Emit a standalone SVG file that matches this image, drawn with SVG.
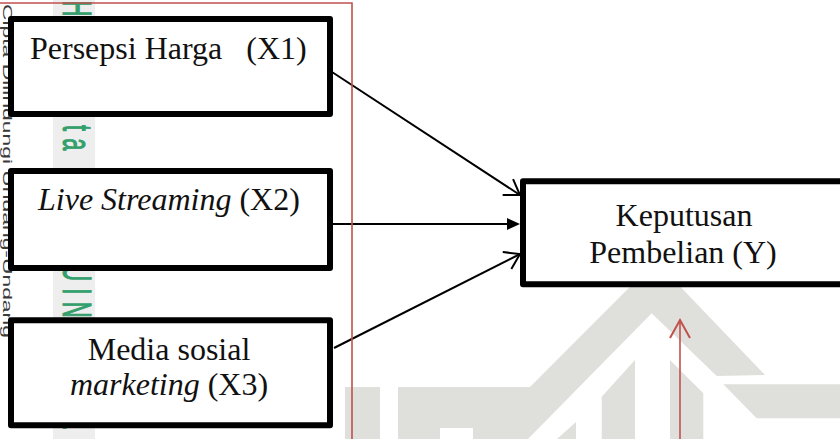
<svg xmlns="http://www.w3.org/2000/svg" width="840" height="439" viewBox="0 0 840 439">
  <style>
    .box { fill: #ffffff; stroke: #000000; stroke-width: 6; stroke-linejoin: round; }
    .lbl { font-family: "Liberation Serif", "Times New Roman", serif; font-size: 32px; fill: #111111; }
    .it { font-style: italic; }
    .conn { stroke: #000000; stroke-width: 2; fill: none; }
    .red { stroke: #c0504d; stroke-width: 1.6; fill: none; }
    .wm { fill: #dfe0dc; }
    .wmband { fill: #eeeeee; }
    .wmgreen { font-family: "Liberation Sans", Arial, sans-serif; font-size: 22px; fill: #33a06c; letter-spacing: 7.3px; }
    .wmblack { font-family: "Liberation Sans", Arial, sans-serif; font-size: 13px; fill: #3a3a3a; }
  </style>
  <defs>
    <marker id="chev" markerUnits="userSpaceOnUse" viewBox="-20 -12 24 24" markerWidth="24" markerHeight="24" refX="0" refY="0" orient="auto" overflow="visible">
      <path d="M-14.5,-9.5 L0,0 L-14.5,9.5" fill="none" stroke="#000000" stroke-width="2" stroke-linejoin="miter"/>
    </marker>
    <marker id="tri" markerUnits="userSpaceOnUse" viewBox="-14 -8 18 16" markerWidth="18" markerHeight="16" refX="0" refY="0" orient="auto" overflow="visible">
      <path d="M10,0 L-3,-6 L-3,6 Z" fill="#000000"/>
    </marker>
    <marker id="redchev" markerUnits="userSpaceOnUse" viewBox="-20 -12 24 24" markerWidth="24" markerHeight="24" refX="0" refY="0" orient="auto" overflow="visible">
      <path d="M-18,-10 L0,0 L-18,10" fill="none" stroke="#c0504d" stroke-width="2"/>
    </marker>
  </defs>

  <rect x="0" y="0" width="840" height="439" fill="#ffffff"/>

  <g id="watermark">
    <rect class="wmband" x="53" y="0" width="42" height="439"/>
    <text class="wmgreen" transform="translate(63,0.5) rotate(90) scale(1,1.85)" stroke="#33a06c" stroke-width="0.6">Hak cipta milik UIN Suska</text>
    <text class="wmblack" transform="translate(3,4) rotate(90)" textLength="334" lengthAdjust="spacingAndGlyphs">Cipta Dilindungi Undang-Undang</text>
    <rect class="wm" x="345" y="387" width="35" height="52"/>
    <polygon class="wm" points="398,387 530,387 655.7,261 765,375 716.7,376 651.7,313.3 528,439 473,439 473,428 440,428 440,439 398,439"/>
    <polygon class="wm" points="723.3,384.3 840,384.3 840,418.3 756.7,418.3"/>
    <polygon class="wm" points="601.7,396.7 635,360 635,439 601.7,439"/>
    <polygon class="wm" points="670,360 703.3,393.3 703.3,439 670,439"/>
    <polygon class="wm" points="557,439 576,422 576,439"/>
  </g>

  <g id="connectors">
    <line class="conn" x1="332" y1="72" x2="520" y2="195" marker-end="url(#chev)"/>
    <line class="conn" x1="333" y1="224" x2="510" y2="224" marker-end="url(#tri)"/>
    <line class="conn" x1="334" y1="348" x2="520" y2="254" marker-end="url(#chev)"/>
  </g>

  <g id="node-x1">
    <rect class="box" x="11" y="19" width="319" height="95"/>
    <text class="lbl" x="30" y="59" style="white-space:pre">Persepsi Harga   (X1)</text>
  </g>

  <g id="node-x2">
    <rect class="box" x="11" y="171" width="319" height="97"/>
    <text class="lbl" x="38" y="210"><tspan class="it">Live Streaming</tspan> (X2)</text>
  </g>

  <g id="node-x3">
    <rect class="box" x="11" y="320.3" width="319" height="105"/>
    <text class="lbl" x="169" y="360" text-anchor="middle">Media sosial</text>
    <text class="lbl" x="169" y="395" text-anchor="middle"><tspan class="it">marketing</tspan> (X3)</text>
  </g>

  <g id="node-y">
    <rect class="box" x="523" y="181.3" width="330" height="103"/>
    <text class="lbl" x="684" y="226" text-anchor="middle">Keputusan</text>
    <text class="lbl" x="683" y="263" text-anchor="middle">Pembelian (Y)</text>
  </g>

  <g id="annotation">
    <polyline class="red" points="0,3 352,3 352,439"/>
    <line class="red" x1="680" y1="439" x2="680" y2="320" marker-end="url(#redchev)"/>
  </g>
</svg>
